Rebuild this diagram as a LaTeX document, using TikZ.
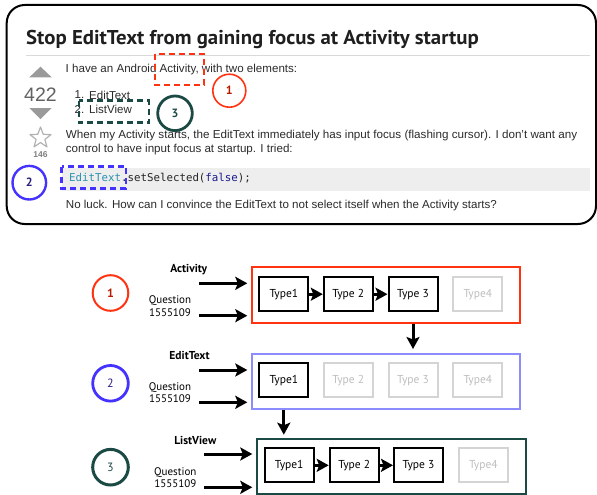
\documentclass[tikz,border=0pt]{standalone}
\usepackage{fontspec}
\usepackage{graphicx}
\setmainfont{Liberation Sans}
\newfontfamily\headfont{PT Sans}
\newfontfamily\codefont{DejaVu Sans Mono}
\newfontfamily\diagfont{PT Sans}
\usetikzlibrary{arrows.meta}
% stretch a line of text horizontally to a given width, keeping its height
\newcommand\fitw[2]{\resizebox{#1}{\height}{#2}}

\definecolor{qred}{HTML}{FF3311}
\definecolor{qdarkred}{HTML}{B81A00}
\definecolor{qblue}{HTML}{4433FF}
\definecolor{qnavy}{HTML}{2A1F7A}
\definecolor{qteal}{HTML}{1B4A44}
\definecolor{lblue}{HTML}{8C8CFF}
\definecolor{fadegray}{HTML}{D4D4D4}
\definecolor{fadetext}{HTML}{BDBDBD}
\definecolor{bodytext}{HTML}{2A2A2A}
\definecolor{codeteal}{HTML}{2B91AF}
\definecolor{codeblue}{HTML}{1A1A8C}
\definecolor{codebg}{HTML}{EEEEEE}
\definecolor{votegray}{HTML}{9A9A9A}

\tikzset{
  txt/.style={anchor=west, inner sep=0pt, text=bodytext, font=\fontsize{11.5}{13}\selectfont},
  markbox/.style={dash pattern=on 6pt off 4pt, line width=2.6pt},
  badge/.style={circle, minimum size=#1, inner sep=0pt, font=\diagfont\bfseries\fontsize{12}{12}\selectfont},
  tbox/.style={draw, line width=2pt, minimum width=49pt, minimum height=33.7pt, inner sep=0pt,
    font=\diagfont\fontsize{11.5}{12}\selectfont},
  ghost/.style={tbox, draw=fadegray, text=fadetext},
  lane/.style={draw, line width=2pt, inner sep=0pt},
  fat/.style={-{Stealth[length=12pt,width=13pt,inset=2.5pt]}, line width=3pt},
  lbl/.style={inner sep=0pt, font=\diagfont\bfseries\fontsize{11.5}{12}\selectfont},
  qlbl/.style={inner sep=0pt, align=center, font=\diagfont\fontsize{11}{12.4}\selectfont}
}

\begin{document}
\begin{tikzpicture}[x=1pt, y=-1pt]
\useasboundingbox (0,0) rectangle (597,495);

% ---------- question card ----------
\draw[line width=2pt, rounded corners=18pt] (6.7,5) rectangle (596,224);
\node[anchor=base west, inner sep=0pt, text=black!88] (title) at (26,45)
  {\fitw{452.7pt}{\headfont\bfseries\fontsize{20}{24}\selectfont Stop EditText from gaining focus at Activity startup}};
\draw[black!15, line width=0.9pt] (26,55) -- (590,55);

% vote column
\fill[votegray] (29.3,77.3) -- (40.5,66.7) -- (51.7,77.3) -- cycle;
\node[inner sep=0pt, text=black!62, font=\fontsize{19.5}{20}\selectfont] (votes) at (40.5,94.5) {422};
\fill[votegray] (29.3,108) -- (51.7,108) -- (40.5,119) -- cycle;
\draw[black!30, line width=1.2pt, line join=round]
  plot[samples at={0,...,9}] ({40.5+ifthenelse(mod(\x,2)==0,11,4.6)*cos(-90+36*\x)},
                              {138+ifthenelse(mod(\x,2)==0,11,4.6)*sin(-90+36*\x)}) -- cycle;
\node[inner sep=0pt, text=black!50, font=\bfseries\fontsize{8.5}{9}\selectfont] (favs) at (40.5,154.5) {146};

% body text
\node[txt] (l1) at (65.5,70) {\fitw{231.5pt}{I have an Android Activity, with two elements:}};
\node[txt] (n1) at (74.5,95) {1.};
\node[txt] (i1) at (89,95) {EditText};
\node[txt] (n2) at (74.5,109.3) {2.};
\node[txt] (i2) at (89,109.3) {ListView};
\node[txt] (l2) at (65.7,135.7) {\fitw{511.3pt}{When my Activity starts, the EditText immediately has input focus (flashing cursor). I don't want any}};
\node[txt] (l3) at (65.7,149.3) {\fitw{226.8pt}{control to have input focus at startup. I tried:}};
\fill[codebg] (61.7,168) rectangle (590,190.5);
\node[anchor=west, inner sep=0pt, text=black!85] (code) at (69,178)
  {\fitw{181.7pt}{\codefont\fontsize{10.8}{12}\selectfont\textcolor{codeteal}{EditText}.setSelected(\textcolor{codeblue}{false});}};
\node[txt] (l4) at (65.7,206) {\fitw{431pt}{No luck. How can I convince the EditText to not select itself when the Activity starts?}};

% highlighted words
\draw[markbox, qred] (155,54) rectangle (204,85);
\draw[markbox, qteal] (79,100.7) rectangle (149,122.7);
\draw[markbox, qblue] (61.7,166.7) rectangle (126,188.3);
\node[badge=33pt, draw=qred, line width=1.6pt, text=qdarkred] (b1) at (229.3,90.7) {1};
\node[badge=34.6pt, draw=qteal, line width=2.8pt, text=qteal] (b3) at (175,113.3) {3};
\node[badge=33.6pt, draw=qblue, line width=2.4pt, text=qnavy] (b2) at (29.3,182.7) {2};

% ---------- type chains ----------
% Activity
\node[badge=35.6pt, draw=qred, line width=2pt, text=qdarkred] (c1) at (110.5,293) {1};
\node[lbl] (act) at (188.8,269.5) {Activity};
\node[qlbl] (q1) at (170,306) {Question\\1555109};
\node[lane, draw=qred, minimum width=268.3pt, minimum height=56pt] (r1) at (385.85,295.3) {};
\node[tbox] (t11) at (283.8,294.2) {Type1};
\node[tbox] (t12) at (348.3,294.2) {Type 2};
\node[tbox] (t13) at (413,294.2) {Type 3};
\node[ghost] (t14) at (477.8,294.2) {Type4};
\coordinate (in1a) at (199,283.3);
\coordinate (in1b) at (199,315.7);
\draw[fat, shorten >=3.4pt] (in1a) -- (in1a -| r1.west);
\draw[fat, shorten >=3.4pt] (in1b) -- (in1b -| r1.west);
\draw[fat] (t11) -- (t12);
\draw[fat] (t12) -- (t13);

% EditText
\node[badge=35.6pt, draw=qblue, line width=2.8pt, text=qnavy, font=\diagfont\fontsize{12}{12}\selectfont] (c2) at (110.5,383.3) {2};
\node[lbl] (edt) at (189.5,355.7) {EditText};
\node[qlbl] (q2) at (170,392.85) {Question\\1555109};
\node[lane, draw=lblue, minimum width=268.3pt, minimum height=55.3pt] (r2) at (385.85,381.65) {};
\node[tbox] (t21) at (283.8,380.3) {Type1};
\node[ghost] (t22) at (348.3,380.3) {Type 2};
\node[ghost] (t23) at (413,380.3) {Type 3};
\node[ghost] (t24) at (477.8,380.3) {Type4};
\coordinate (in2a) at (199,370);
\coordinate (in2b) at (199,402.3);
\draw[fat, shorten >=3.4pt] (in2a) -- (in2a -| r2.west);
\draw[fat, shorten >=3.4pt] (in2b) -- (in2b -| r2.west);
\draw[fat, shorten >=4pt] (r1.south -| t13) -- (r2.north -| t13);

% ListView
\node[badge=35.6pt, draw=qteal, line width=3pt, text=qteal, font=\diagfont\fontsize{12}{12}\selectfont] (c3) at (110.5,467.2) {3};
\node[lbl] (lsv) at (195.3,440.7) {ListView};
\node[qlbl] (q3) at (175.3,477.5) {Question\\1555109};
\node[lane, draw=qteal, minimum width=268.7pt, minimum height=55.6pt] (r3) at (391.65,466.5) {};
\node[tbox] (t31) at (289.2,465.3) {Type1};
\node[tbox] (t32) at (354.2,465.3) {Type 2};
\node[tbox] (t33) at (418.5,465.3) {Type 3};
\node[ghost] (t34) at (483.3,465.3) {Type4};
\coordinate (in3a) at (204.3,454);
\coordinate (in3b) at (204.3,487.3);
\draw[fat, shorten >=4pt] (in3a) -- (in3a -| r3.west);
\draw[fat, shorten >=4pt] (in3b) -- (in3b -| r3.west);
\draw[fat, shorten >=3pt] (r2.south -| t21) -- (r3.north -| t21);
\draw[fat] (t31) -- (t32);
\draw[fat] (t32) -- (t33);
\end{tikzpicture}
\end{document}
